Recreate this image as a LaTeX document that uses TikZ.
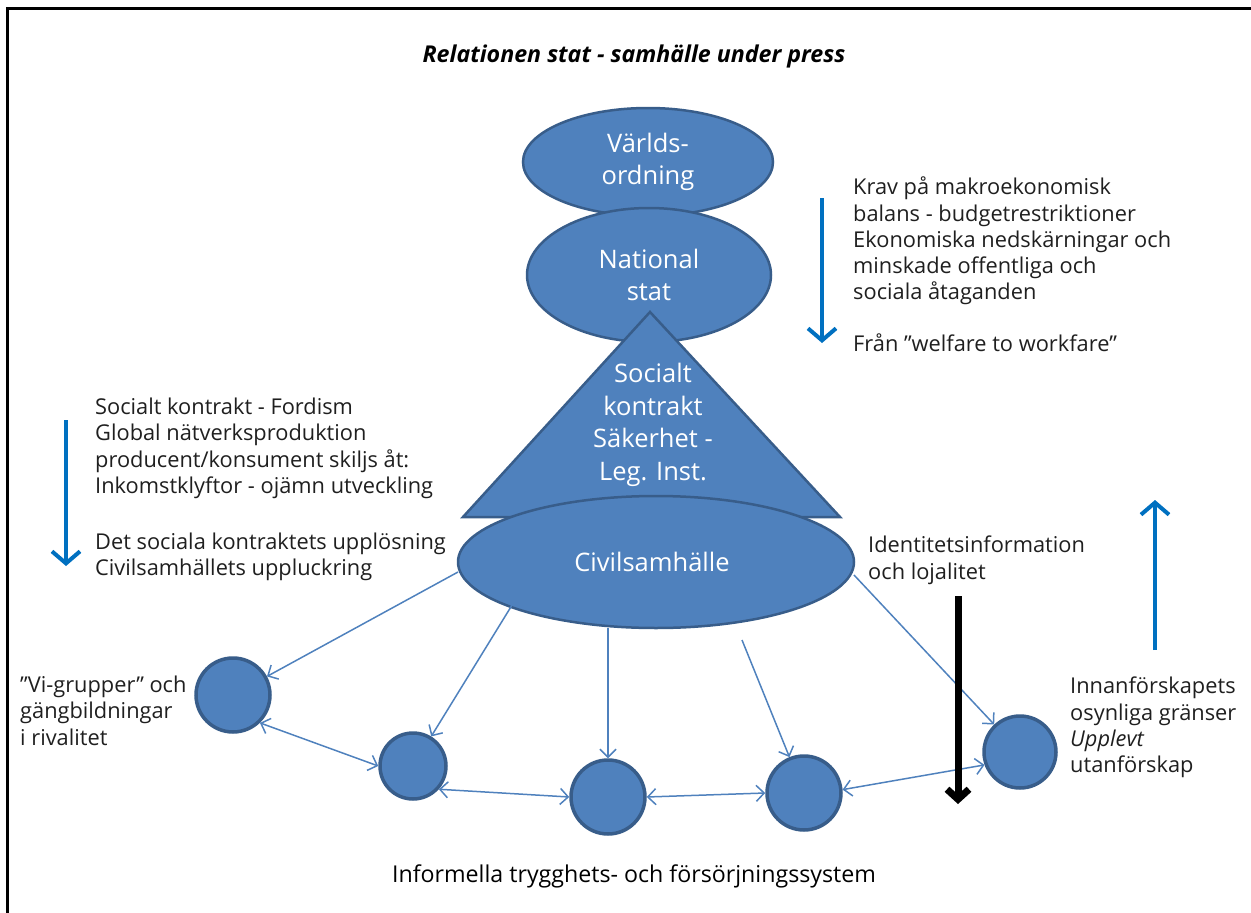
\documentclass[tikz,border=0pt]{standalone}
\usepackage{fontspec}
\setmainfont{Open Sans}
\usetikzlibrary{arrows.meta,shapes.geometric}
\definecolor{fillblue}{HTML}{4F81BD}
\definecolor{edgeblue}{HTML}{385D8A}
\definecolor{arrowblue}{HTML}{0070C0}
\begin{document}
\begin{tikzpicture}[x=1pt,y=-1pt,
  shapetext/.style={text=white, inner sep=0pt, align=center, font=\fontsize{25.5}{32.5}\selectfont},
  bigell/.style={ellipse, draw=edgeblue, fill=fillblue, line width=2.5pt, shapetext},
  dot/.style={circle, draw=edgeblue, fill=fillblue, line width=3.5pt, inner sep=0pt},
  conn/.style={draw=fillblue, line width=1.5pt, -{Straight Barb[length=8pt,width=16pt]}},
  bconn/.style={draw=fillblue, line width=1.5pt, {Straight Barb[length=8pt,width=16pt]}-{Straight Barb[length=8pt,width=16pt]}},
  bluearrow/.style={draw=arrowblue, line width=4pt, -{Straight Barb[length=12pt,width=28pt]}},
  blackarrow/.style={draw=black, line width=7pt, -{Straight Barb[length=10pt,width=22pt]}},
  txt/.style={anchor=north west, align=left, inner sep=0pt, font=\fontsize{21.8}{26.2}\selectfont, text=black!88},
]
\useasboundingbox (0,0) rectangle (1251,913);
% frame (left and top only)
\draw[line width=3pt] (7,913) -- (7,8) -- (1251,8);

% title
\node[font=\fontsize{23.2}{26}\selectfont\bfseries\itshape, inner sep=0pt] (title) at (634,56) {Relationen stat - samhälle under press};

% stacked shapes
\node[bigell, minimum width=250pt, minimum height=108pt] (vo) at (648,162) {Världs-\\ordning};
\node[bigell, minimum width=244pt, minimum height=134pt] (ns) at (649,275) {National\\stat};
\filldraw[draw=edgeblue, fill=fillblue, line width=2.5pt, line join=miter] (650,312) -- (840,517) -- (463,517) -- cycle;
\node[shapetext] (tri) at (653,425) {Socialt\\kontrakt\\Säkerhet -\\Leg. Inst.};
\node[bigell, minimum width=396pt, minimum height=132pt] (civ) at (656,562) {\hspace*{-8pt}Civilsamhälle};

% small circles
\node[dot, minimum size=74pt] (c1) at (233,695) {};
\node[dot, minimum size=66pt] (c2) at (413,766) {};
\node[dot, minimum size=74pt] (c3) at (608,797) {};
\node[dot, minimum size=74pt] (c4) at (804,793) {};
\node[dot, minimum size=72pt] (c5) at (1020,752) {};

% connector start points
\coordinate (s1) at (458,572);
\coordinate (s2) at (517,597);
\coordinate (s3) at (608,628);
\coordinate (s4) at (742,640);
\coordinate (s5) at (854,575);
\draw[conn] (s1) -- (c1);
\draw[conn] (s2) -- (c2);
\draw[conn] (s3) -- (c3);
\draw[conn] (s4) -- (c4);
\draw[conn] (s5) -- (c5);
\draw[bconn] (c1.-46) -- (c2.180);
\draw[bconn] (c2.-42) -- (c3.180);
\draw[bconn] (c3.0) -- (c4.180);
\draw[bconn] (c4.5) -- (c5.200);

% blue trend arrows
\coordinate (a1s) at (822,198); \coordinate (a1e) at (822,343);
\coordinate (a2s) at (66,420);  \coordinate (a2e) at (66,566);
\coordinate (a3s) at (1155,650); \coordinate (a3e) at (1155,500);
\draw[bluearrow] (a1s) -- (a1e);
\draw[bluearrow] (a2s) -- (a2e);
\draw[bluearrow] (a3s) -- (a3e);

% black arrow
\coordinate (b1s) at (958,596); \coordinate (b1e) at (958,804);
\draw[blackarrow] (b1s) -- (b1e);

% text blocks
\node[txt] (tright) at (853,177) {Krav på makroekonomisk\\balans - budgetrestriktioner\\Ekonomiska nedskärningar och\\minskade offentliga och\\sociala åtaganden\\[26pt]Från ”welfare to workfare”};
\node[txt] (tleft) at (95,398) {Socialt kontrakt - Fordism\\Global nätverksproduktion\\producent/konsument skiljs åt:\\Inkomstklyftor - ojämn utveckling\\[30pt]Det sociala kontraktets upplösning\\Civilsamhällets uppluckring};
\node[txt] (tident) at (868,536) {Identitetsinformation\\och lojalitet};
\node[txt] (tinn) at (1070,677) {Innanförskapets\\osynliga gränser\\\textit{Upplevt}\\utanförskap};
\node[txt] (tvi) at (20,676) {”Vi-grupper” och\\gängbildningar\\i rivalitet};
\node[font=\fontsize{23.2}{26}\selectfont, inner sep=0pt, text=black] (tbottom) at (634,876) {Informella trygghets- och försörjningssystem};
\end{tikzpicture}
\end{document}
